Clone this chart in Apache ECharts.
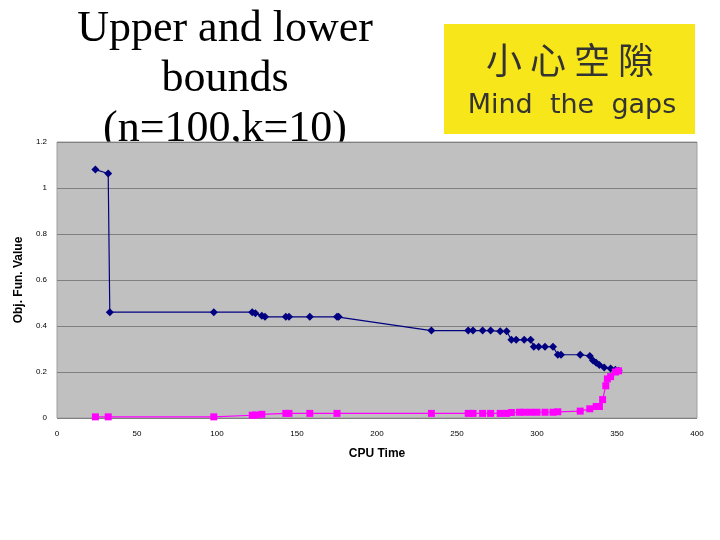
<!DOCTYPE html>
<html><head><meta charset="utf-8">
<script src="https://cdn.jsdelivr.net/npm/echarts@6/dist/echarts.min.js"></script>
<style>body{margin:0;background:#fff}#c{width:720px;height:540px}</style>
</head><body><div id="c"></div>
<script>
// upper bound (navy diamonds): [cpu time, value]
var upperBound = [[24,1.08],[32,1.063],[33,0.46],[98,0.46],[122,0.46],[124,0.455],[128,0.445],[130,0.44],[143,0.44],[145,0.44],[158,0.44],[175,0.44],[176,0.44],[234,0.38],[257,0.38],[260,0.38],[266,0.38],[271,0.38],[277,0.377],[281,0.377],[284,0.34],[287,0.34],[292,0.34],[296,0.34],[298,0.31],[301,0.31],[305,0.31],[310,0.31],[313,0.275],[315,0.275],[327,0.275],[333,0.27],[335,0.25],[337,0.24],[339,0.23],[342,0.22],[346,0.215],[349,0.21],[351,0.205]];
// lower bound (magenta squares)
var lowerBound = [[24,0.005],[32,0.005],[98,0.005],[122,0.012],[124,0.013],[128,0.016],[143,0.02],[145,0.02],[158,0.02],[175,0.02],[234,0.02],[257,0.02],[260,0.02],[266,0.02],[271,0.02],[277,0.02],[281,0.02],[284,0.024],[289,0.025],[292,0.025],[296,0.025],[300,0.025],[305,0.025],[310,0.025],[313,0.027],[327,0.03],[333,0.04],[337,0.05],[339,0.05],[341,0.08],[343,0.14],[344,0.17],[346,0.18],[349,0.2],[351,0.205]];

var chart = echarts.init(document.getElementById('c'));
chart.setOption({
  animation:false,
  graphic:[
    {type:'rect',shape:{x:444,y:24,width:251,height:110},style:{fill:'#f7e61a'}},
    {type:'text',x:570,y:60,style:{text:'小 心 空 隙',font:'36px "Noto Sans CJK TC"',fill:'#333',textAlign:'center',textVerticalAlign:'middle'}},
    {type:'text',x:572,y:106,style:{text:'Mind  the  gaps',font:'27px "DejaVu Sans"',fill:'#333',textAlign:'center',textVerticalAlign:'middle'}},
    {type:'text',x:225,y:4,z:-10,style:{text:'Upper and lower\nbounds\n(n=100,k=10)',font:'44px "Liberation Serif"',fill:'#000',textAlign:'center',lineHeight:50}}
  ],
  grid:{left:57,right:23,top:142,bottom:122,backgroundColor:'#c0c0c0',show:true,borderColor:'#a0a0a0',borderWidth:1},
  xAxis:{type:'value',min:0,max:400,interval:50,name:'CPU Time',nameLocation:'middle',nameGap:30,
    nameTextStyle:{fontSize:12,fontWeight:'bold',color:'#000',fontFamily:'Arial'},
    axisLine:{show:false},axisTick:{show:false},splitLine:{show:false},
    axisLabel:{fontSize:8,color:'#000',margin:12}},
  yAxis:{type:'value',min:0,max:1.2,interval:0.2,name:'Obj. Fun. Value',nameLocation:'middle',nameGap:22,
    nameTextStyle:{fontSize:12,fontWeight:'bold',color:'#000',fontFamily:'Arial'},
    axisLine:{show:false},axisTick:{show:false},
    splitLine:{lineStyle:{color:'#808080',width:1}},
    axisLabel:{fontSize:8,color:'#000',margin:10}},
  series:[
    {type:'line',data:upperBound,symbol:'diamond',symbolSize:8,itemStyle:{color:'#000080'},lineStyle:{color:'#000080',width:1.2}},
    {type:'line',data:lowerBound,symbol:'rect',symbolSize:7,itemStyle:{color:'#ff00ff'},lineStyle:{color:'#ff00ff',width:1.2}}
  ]
});
</script></body></html>
